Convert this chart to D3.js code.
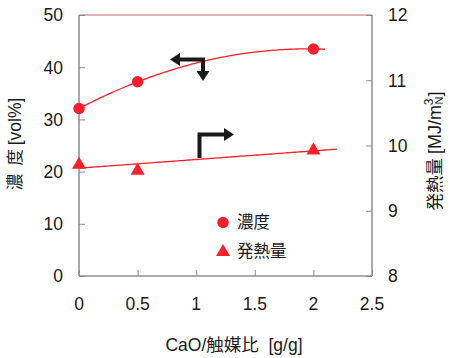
<!DOCTYPE html>
<html><head><meta charset="utf-8">
<script src="https://cdn.jsdelivr.net/npm/d3@7"></script>
<style>body{margin:0;background:#fff}svg{display:block}text{white-space:pre}</style>
</head><body>
<svg id="c" width="450" height="358"></svg>
<script>
const ratio = [0, 0.5, 2];
const conc = [32.1, 37.2, 43.5];        // 濃度 [vol%]
const heat = [9.72, 9.63, 9.94];        // 発熱量 [MJ/m3N]
const xTicks = [0, 0.5, 1, 1.5, 2, 2.5];
const yLeftTicks = [0, 10, 20, 30, 40, 50];
const yRightTicks = [8, 9, 10, 11, 12];
const concTrendRange = [0, 2.1];
const heatTrendRange = [0, 2.2];

const svg = d3.select("#c");
const L = 79, R = 372, T = 15, B = 276;
const x = d3.scaleLinear().domain([0, 2.5]).range([L, R]);
const yL = d3.scaleLinear().domain([0, 50]).range([B, T]);
const yR = d3.scaleLinear().domain([8, 12]).range([B, T]);
const font = "'Noto Sans CJK JP', sans-serif";
const numFont = "'Liberation Sans', Arial, sans-serif";
const red = "#ff1f2a";
const txt = "#1a1a1a";

function polyfit(xs, ys, deg) {
  const n = deg + 1;
  const A = Array.from({length: n}, () => new Array(n + 1).fill(0));
  for (let i = 0; i < xs.length; i++) {
    for (let r = 0; r < n; r++) {
      for (let c = 0; c < n; c++) A[r][c] += Math.pow(xs[i], r + c);
      A[r][n] += ys[i] * Math.pow(xs[i], r);
    }
  }
  for (let i = 0; i < n; i++) {
    let p = i; for (let k = i + 1; k < n; k++) if (Math.abs(A[k][i]) > Math.abs(A[p][i])) p = k;
    [A[i], A[p]] = [A[p], A[i]];
    for (let k = i + 1; k < n; k++) { const f = A[k][i] / A[i][i]; for (let j = i; j <= n; j++) A[k][j] -= f * A[i][j]; }
  }
  const co = new Array(n).fill(0);
  for (let i = n - 1; i >= 0; i--) { let s = A[i][n]; for (let j = i + 1; j < n; j++) s -= A[i][j] * co[j]; co[i] = s / A[i][i]; }
  return v => co.reduce((s, c, i) => s + c * Math.pow(v, i), 0);
}
const fc = polyfit(ratio, conc, 2);
const fh = polyfit(ratio, heat, 1);

// axes
const axisCol = "#8c8c8c";
svg.append("line").attr("x1", L).attr("x2", R).attr("y1", T).attr("y2", T).attr("stroke", "#d99a9a").attr("stroke-width", 1.3);
const gl = svg.append("g").attr("transform", `translate(${L},0)`)
  .call(d3.axisRight(yL).tickValues(yLeftTicks).tickSize(6).tickFormat(""));
const gr = svg.append("g").attr("transform", `translate(${R},0)`)
  .call(d3.axisLeft(yR).tickValues(yRightTicks).tickSize(6).tickFormat(""));
const gb = svg.append("g").attr("transform", `translate(0,${B})`)
  .call(d3.axisTop(x).tickValues(xTicks).tickSize(6).tickFormat(""));
[gl, gr, gb].forEach(g => { g.selectAll("path").attr("stroke", axisCol).attr("stroke-width", 1.5); g.selectAll("line").attr("stroke", axisCol); });
gl.select(".domain").attr("d", `M0,${T}V${B}`);
gr.select(".domain").attr("d", `M0,${T}V${B}`);
gb.select(".domain").attr("d", `M${L},0H${R}`);

// tick labels
const lab = svg.append("g").attr("font-family", numFont).attr("font-size", 17.5).attr("fill", txt);
lab.selectAll(".yl").data(yLeftTicks).join("text").attr("x", 63).attr("y", d => yL(d)).attr("dy", "0.36em").attr("text-anchor", "end").text(d => d);
lab.selectAll(".yr").data(yRightTicks).join("text").attr("x", 388).attr("y", d => yR(d)).attr("dy", "0.36em").attr("text-anchor", "start").text(d => d);
lab.selectAll(".xt").data(xTicks).join("text").attr("x", d => x(d)).attr("y", 310).attr("text-anchor", "middle").text(d => d);

// titles
const xt = svg.append("text").attr("font-family", font).attr("font-size", 17.5).attr("fill", txt)
  .attr("x", 234).attr("y", 351).attr("text-anchor", "middle");
xt.append("tspan").attr("font-family", numFont).text("CaO/");
xt.append("tspan").text("触媒比");
xt.append("tspan").attr("font-family", numFont).text("  [g/g]");
const yt = svg.append("text").attr("font-family", font).attr("font-size", 16.5).attr("fill", txt)
  .attr("transform", "translate(21,144) rotate(-90)").attr("text-anchor", "middle");
yt.append("tspan").text("濃\u2002度 ");
yt.append("tspan").attr("font-family", numFont).attr("font-size", 17.5).text("[vol%]");
const rt = svg.append("text").attr("font-family", font).attr("font-size", 17.5).attr("fill", txt)
  .attr("transform", "translate(441,151) rotate(-90)").attr("text-anchor", "middle");
rt.append("tspan").text("発熱量 ");
rt.append("tspan").attr("font-family", numFont).attr("font-size", 18).text("[MJ/m");
rt.append("tspan").attr("font-family", numFont).attr("font-size", 12).attr("dy", -8).text("3");
rt.append("tspan").attr("font-family", numFont).attr("font-size", 11).attr("dy", 10).attr("dx", -6).text("N");
rt.append("tspan").attr("font-family", numFont).attr("font-size", 18).attr("dy", -2).text("]");

// trendlines
const line = (f, ys) => d3.line().x(d => x(d)).y(d => ys(f(d)));
svg.append("path").datum(d3.range(concTrendRange[0], concTrendRange[1] + 1e-9, 0.02))
  .attr("d", line(fc, yL)).attr("fill", "none").attr("stroke", red).attr("stroke-width", 1.3);
svg.append("path").datum(d3.range(heatTrendRange[0], heatTrendRange[1] + 1e-9, 0.02))
  .attr("d", line(fh, yR)).attr("fill", "none").attr("stroke", red).attr("stroke-width", 1.3);

// markers
svg.selectAll(".c").data(ratio).join("circle").attr("cx", d => x(d)).attr("cy", (d, i) => yL(conc[i])).attr("r", 5.7).attr("fill", red);
const tri = d3.symbol().type(d3.symbolTriangle).size(85);
svg.selectAll(".t").data(ratio).join("path").attr("d", tri)
  .attr("transform", (d, i) => `translate(${x(d)},${yR(heat[i]) + 1})`).attr("fill", red);

// arrows
const arrCol = "#1a1a1a";
function poly(pts) { svg.append("path").attr("d", d3.line()(pts) + "Z").attr("fill", arrCol); }
function seg(pts) { svg.append("path").attr("d", d3.line()(pts)).attr("fill", "none").attr("stroke", arrCol).attr("stroke-width", 4).attr("stroke-linejoin", "miter"); }
seg([[178, 59.5], [203, 59.5], [203, 72]]);
poly([[170, 59.5], [180, 53], [180, 66]]);
poly([[203, 81], [196.5, 71], [209.5, 71]]);
seg([[199.5, 158], [199.5, 134.5], [226, 134.5]]);
poly([[234, 134.5], [224, 128], [224, 141]]);

// legend
svg.append("circle").attr("cx", 223).attr("cy", 222.5).attr("r", 5.7).attr("fill", red);
svg.append("path").attr("d", tri).attr("transform", "translate(223,252)").attr("fill", red);
svg.append("text").attr("font-family", font).attr("font-size", 16.5).attr("fill", txt).attr("x", 237).attr("y", 222.5).attr("dy", "0.36em").text("濃度");
svg.append("text").attr("font-family", font).attr("font-size", 16.5).attr("fill", txt).attr("x", 237).attr("y", 251.5).attr("dy", "0.36em").text("発熱量");
</script>
</body></html>
